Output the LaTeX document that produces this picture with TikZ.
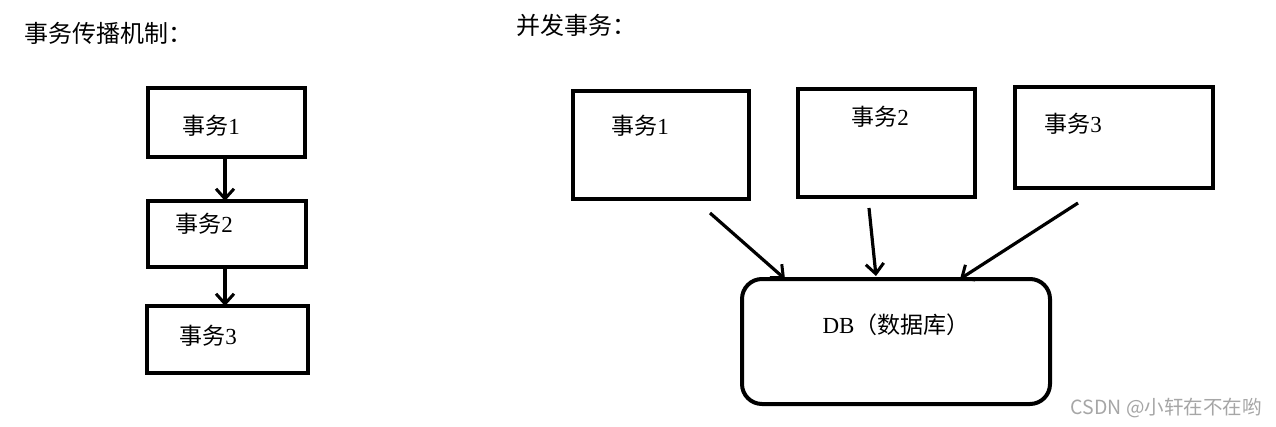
\documentclass[tikz,border=0pt]{standalone}
\usepackage{fontspec}
\setmainfont{Liberation Serif}
\newfontfamily\cjk{Noto Sans CJK SC}
\usetikzlibrary{arrows.meta}
\begin{document}
\begin{tikzpicture}[x=1pt,y=-1pt,
  box/.style={draw,line width=4pt},
  lbl/.style={font=\fontsize{23}{27}\selectfont, anchor=center},
  arr/.style={line width=3.2pt,-{Straight Barb[length=10pt,width=18pt,line width=3pt]}}]
\useasboundingbox[fill=white] (0,0) rectangle (1276,426);
% titles
\node[anchor=west,inner sep=0pt,font=\fontsize{24}{28}\selectfont] (t1) at (24,33) {\cjk 事务传播机制：};
\node[anchor=west,inner sep=0pt,font=\fontsize{24}{28}\selectfont] (t2) at (516,25) {\cjk 并发事务：};
% left chain
\draw[box] (148,88) rectangle (305,157);
\draw[box] (148,201) rectangle (306,267);
\draw[box] (147,306) rectangle (308,373);
\coordinate (l1b) at (225,157);
\coordinate (l2t) at (225,201);
\coordinate (l2b) at (225,267);
\coordinate (l3t) at (225,306);
\node[lbl] (s1) at (211,126) {{\cjk 事务}1};
\node[lbl] (s2) at (204,224) {{\cjk 事务}2};
\node[lbl] (s3) at (208,336) {{\cjk 事务}3};
\draw[arr] (l1b) -- (l2t);
\draw[arr] (l2b) -- (l3t);
% right
\draw[box] (573,91) rectangle (749,199);
\draw[box] (798,89) rectangle (975,197);
\draw[box] (1015,87) rectangle (1213,188);
\node[lbl] (c1) at (640,126) {{\cjk 事务}1};
\node[lbl] (c2) at (880,117) {{\cjk 事务}2};
\node[lbl] (c3) at (1073,124) {{\cjk 事务}3};
\draw[box,rounded corners=20pt] (742,279) rectangle (1050,404);
\node[lbl] (db) at (896,325) {DB{\cjk （数据库）}};
\coordinate (a1s) at (710,213);
\coordinate (a1e) at (785,279);
\coordinate (a2s) at (869,208);
\coordinate (a2e) at (876,276);
\coordinate (a3s) at (1078,203);
\coordinate (a3e) at (960,279);
\draw[arr] (a1s) -- (a1e);
\draw[arr] (a2s) -- (a2e);
\draw[arr] (a3s) -- (a3e);
% watermark
\node[anchor=east,inner sep=0pt,text=black!35,font=\fontsize{19.5}{23}\selectfont] (wm) at (1262,408) {\cjk CSDN @小轩在不在哟};
\end{tikzpicture}
\end{document}
